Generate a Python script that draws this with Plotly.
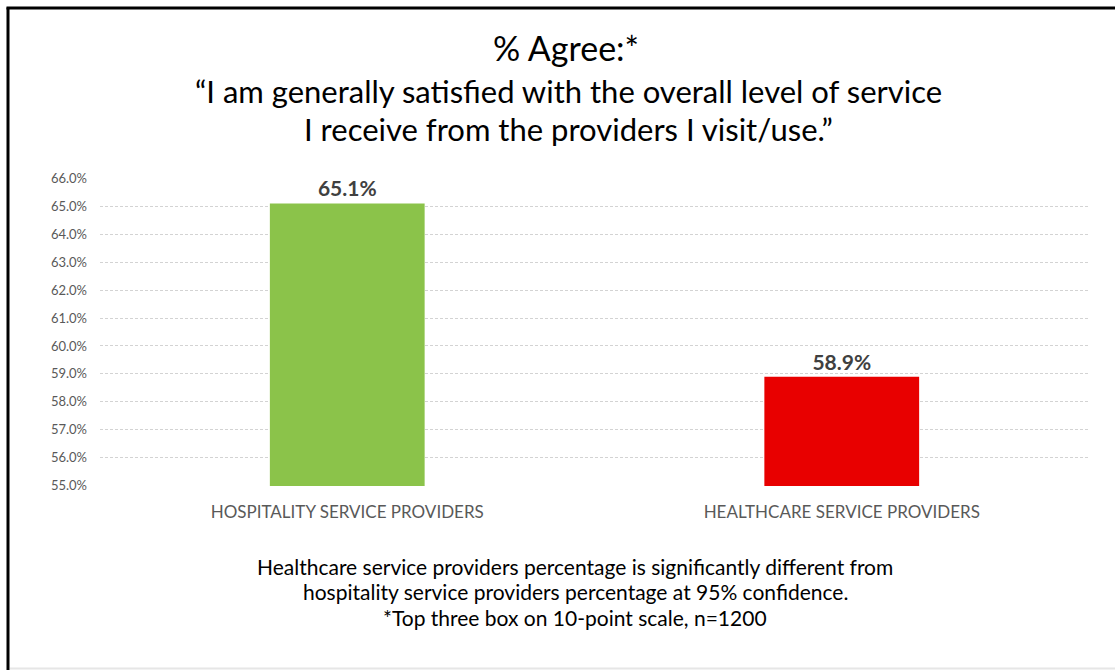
import plotly.graph_objects as go

# Survey results: share agreeing (top three box, 10-point scale)
categories = ["HOSPITALITY SERVICE PROVIDERS", "HEALTHCARE SERVICE PROVIDERS"]
agree_pct = [65.1, 58.9]
bar_colors = ["#8bc34a", "#e80000"]
tick_values = [55, 56, 57, 58, 59, 60, 61, 62, 63, 64, 65, 66]
tick_labels = [f"{v:.1f}%" for v in tick_values]

headline = "% Agree:*"
statement_lines = [
    "“I am generally satisfied with the overall level of service",
    "I receive from the providers I visit/use.”",
]
footnote_lines = [
    "Healthcare service providers percentage is significantly different from",
    "hospitality service providers percentage at 95% confidence.",
    "*Top three box on 10-point scale, n=1200",
]

W, H = 1115, 670


def px_x(p):
    return p / W


def px_y(p):
    return 1 - p / H


FONT = "Lato, Open Sans, sans-serif"

fig = go.Figure(
    go.Bar(
        x=categories,
        y=agree_pct,
        marker=dict(color=bar_colors, line=dict(width=0)),
        width=0.313,
        text=agree_pct,
        texttemplate="<b>%{text:.1f}%</b>",
        textposition="outside",
        textfont=dict(family=FONT, size=21, color="#404040"),
        cliponaxis=False,
        hoverinfo="skip",
    )
)

fig.update_layout(
    width=W,
    height=H,
    margin=dict(l=0, r=0, t=0, b=0, pad=0),
    paper_bgcolor="white",
    plot_bgcolor="white",
    showlegend=False,
    font=dict(family=FONT),
    xaxis=dict(
        domain=[px_x(100), px_x(1089)],
        automargin=False,
        showgrid=False,
        showline=False,
        ticks="",
        tickfont=dict(family=FONT, size=17, color="#595959"),
        ticklabelstandoff=14,
    ),
    yaxis=dict(
        domain=[px_y(486), px_y(178)],
        automargin=False,
        range=[54.99, 66.01],
        tickvals=tick_values,
        ticktext=tick_labels,
        showgrid=True,
        gridcolor="#d3d3d3",
        griddash="3px,2px",
        gridwidth=1,
        zeroline=False,
        showline=False,
        ticks="",
        tickfont=dict(family=FONT, size=13, color="#595959"),
        ticklabelstandoff=12,
    ),
)


def centered_text(text, x, y, size):
    fig.add_annotation(
        x=px_x(x), y=px_y(y), xref="paper", yref="paper",
        text=text, showarrow=False,
        font=dict(family=FONT, size=size, color="#000000"),
        xanchor="center", yanchor="middle",
    )


# Headline and quoted statement
centered_text(headline, 566, 48, 34)
for i, line in enumerate(statement_lines):
    centered_text(line, 568, 91 + i * 38, 31)

# Footnote
for i, line in enumerate(footnote_lines):
    centered_text(line, 575, 566 + i * 25.5, 21)

# Frame around the slide
fig.add_shape(type="line", xref="paper", yref="paper",
              x0=px_x(8), y0=px_y(670), x1=px_x(8), y1=px_y(7.5),
              line=dict(color="black", width=3))
fig.add_shape(type="line", xref="paper", yref="paper",
              x0=px_x(6.5), y0=px_y(8), x1=1, y1=px_y(8),
              line=dict(color="black", width=3))
fig.add_shape(type="line", xref="paper", yref="paper",
              x0=px_x(10), y0=px_y(668.5), x1=1, y1=px_y(668.5),
              line=dict(color="#e6e6e6", width=2))

fig.write_html("out.html")
